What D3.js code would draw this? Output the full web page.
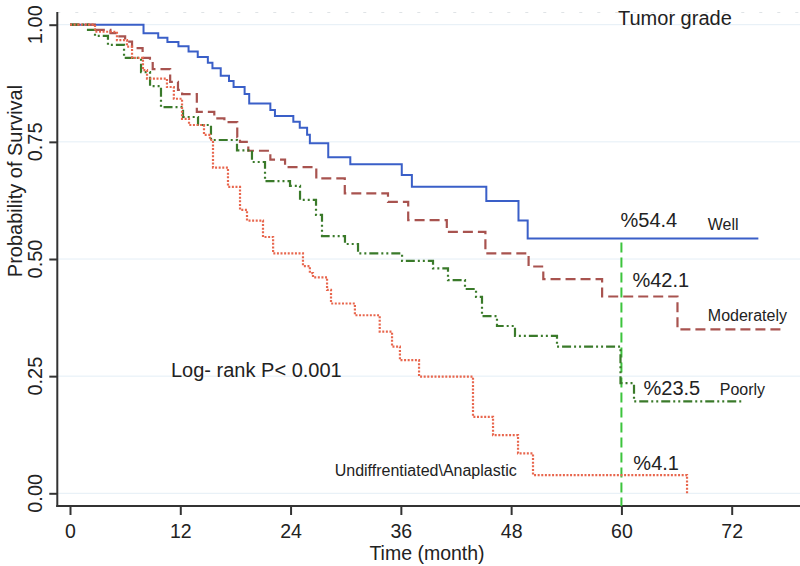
<!DOCTYPE html>
<html>
<head>
<meta charset="utf-8">
<script src="https://cdn.jsdelivr.net/npm/d3@7"></script>
<style>
  html, body { margin: 0; padding: 0; background: #fff; }
  svg { display: block; font-family: "Liberation Sans", Arial, sans-serif; }
</style>
</head>
<body>
<svg id="chart" width="800" height="566"></svg>
<script>
// ---------------- data ----------------
const xTicks = [0, 12, 24, 36, 48, 60, 72];
const yTicks = [0, 0.25, 0.5, 0.75, 1];
const yTickLabels = ["0.00", "0.25", "0.50", "0.75", "1.00"];

const wellTime = [0, 8.0, 9.6, 10.6, 11.8, 12.9, 13.9, 15.0, 15.5, 16.4, 17.3, 17.8, 19.0, 19.5, 21.8, 22.3, 24.3, 25.0, 25.8, 26.1, 28.1, 30.5, 36.1, 37.2, 45.3, 48.8, 49.8, 74.9];
const wellSurv = [1, 0.982, 0.972, 0.963, 0.954, 0.943, 0.931, 0.919, 0.907, 0.891, 0.880, 0.867, 0.852, 0.832, 0.818, 0.805, 0.793, 0.780, 0.765, 0.747, 0.717, 0.702, 0.679, 0.654, 0.624, 0.582, 0.544, 0.544];

const modTime = [0, 2.7, 4.4, 5.1, 6.0, 6.75, 7.9, 8.7, 9.0, 10.9, 11.75, 12.2, 13.8, 15.7, 16.8, 18.2, 18.5, 19.4, 21.8, 23.4, 26.8, 29.9, 34.6, 36.8, 41.0, 45.2, 49.9, 51.5, 57.9, 66.1, 77.4];
const modSurv = [1, 0.989, 0.982, 0.975, 0.964, 0.950, 0.929, 0.918, 0.905, 0.878, 0.861, 0.852, 0.814, 0.800, 0.792, 0.760, 0.750, 0.731, 0.712, 0.696, 0.672, 0.640, 0.622, 0.583, 0.558, 0.512, 0.484, 0.457, 0.420, 0.350, 0.350];

const poorTime = [0, 1.96, 2.72, 4.13, 5.88, 7.73, 8.71, 9.90, 12.30, 13.93, 15.34, 18.17, 19.80, 21.22, 23.94, 25.03, 26.77, 27.42, 29.92, 31.34, 36.13, 39.50, 41.13, 42.98, 44.18, 44.83, 46.46, 48.42, 52.99, 59.90, 61.37, 73.26];
const poorSurv = [1, 0.989, 0.976, 0.957, 0.929, 0.899, 0.869, 0.824, 0.803, 0.786, 0.754, 0.732, 0.707, 0.666, 0.656, 0.626, 0.594, 0.549, 0.532, 0.512, 0.496, 0.480, 0.455, 0.436, 0.419, 0.378, 0.357, 0.336, 0.313, 0.235, 0.196, 0.196];

const undTime = [0, 2.72, 5.11, 6.2, 6.75, 7.94, 8.38, 10.55, 11.3, 12.19, 12.95, 14.58, 15.23, 15.56, 17.19, 18.5, 19.26, 21.0, 22.1, 25.35, 26.1, 26.44, 27.97, 28.4, 31.0, 33.7, 35.04, 35.9, 37.98, 43.85, 46.03, 48.75, 50.38, 67.14];
const undSurv = [1, 0.985, 0.967, 0.953, 0.929, 0.903, 0.885, 0.867, 0.842, 0.799, 0.786, 0.765, 0.754, 0.695, 0.654, 0.605, 0.582, 0.547, 0.512, 0.485, 0.470, 0.461, 0.434, 0.405, 0.380, 0.345, 0.313, 0.284, 0.249, 0.163, 0.124, 0.085, 0.039, 0];

const refTime = 60;
const refTop = 0.535;

// annotations: [text, time, survival]
const pctLabels = [["%54.4", 59.9, 0.569], ["%42.1", 61.2, 0.44], ["%23.5", 62.4, 0.21], ["%4.1", 61.3, 0.049]];
const groupLabels = [["Well", 69.4, 0.562], ["Moderately", 69.4, 0.368], ["Poorly", 70.7, 0.21], ["Undiffrentiated\\Anaplastic", 28.8, 0.036]];

// ---------------- drawing ----------------
const svg = d3.select("#chart");
const x = d3.scaleLinear().domain([0, 72]).range([70, 731.7]);
const y = d3.scaleLinear().domain([0, 1]).range([493.3, 24.7]);

const axisX = 57.3;          // y-axis line position
const plotBottom = 506;      // x-axis line position
const plotTop = 12;
const plotRight = 800;

// faint top border
svg.append("line").attr("x1", axisX).attr("x2", plotRight).attr("y1", plotTop + 0.5).attr("y2", plotTop + 0.5)
  .attr("stroke", "#dfe3e6").attr("stroke-width", 1).attr("stroke-dasharray", "3,15");

// gridlines
svg.append("g").selectAll("line").data(yTicks).join("line")
  .attr("x1", axisX).attr("x2", plotRight)
  .attr("y1", d => y(d)).attr("y2", d => y(d))
  .attr("stroke", "#e4eef6").attr("stroke-width", 1);

// axes
const xAxis = d3.axisBottom(x).tickValues(xTicks).tickSize(9).tickPadding(9).tickSizeOuter(0);
const gx = svg.append("g").attr("transform", `translate(0,${plotBottom})`).call(xAxis);
gx.select(".domain").remove();
gx.selectAll(".tick line").attr("stroke", "#333").attr("stroke-width", 2);
gx.selectAll(".tick text").attr("font-size", 19.5).attr("fill", "#222")
  .attr("font-family", "Liberation Sans, Arial, sans-serif");

const yAxis = d3.axisLeft(y).tickValues(yTicks).tickSize(8).tickFormat("").tickSizeOuter(0);
const gy = svg.append("g").attr("transform", `translate(${axisX},0)`).call(yAxis);
gy.select(".domain").remove();
gy.selectAll(".tick line").attr("stroke", "#333").attr("stroke-width", 2);

svg.append("g").selectAll("text").data(yTicks).join("text")
  .attr("transform", (d) => `translate(41.5,${y(d)}) rotate(-90)`)
  .attr("text-anchor", "middle").attr("font-size", 20).attr("fill", "#222")
  .text((d, i) => yTickLabels[i]);

// axis lines
svg.append("line").attr("x1", axisX).attr("x2", axisX).attr("y1", plotTop).attr("y2", plotBottom + 1)
  .attr("stroke", "#333").attr("stroke-width", 2);
svg.append("line").attr("x1", axisX - 1).attr("x2", plotRight).attr("y1", plotBottom).attr("y2", plotBottom)
  .attr("stroke", "#333").attr("stroke-width", 2);

// axis titles
svg.append("text").attr("transform", "translate(22,181) rotate(-90)")
  .attr("text-anchor", "middle").attr("font-size", 20).attr("fill", "#222")
  .text("Probability of Survival");
svg.append("text").attr("x", 427).attr("y", 559.5).attr("text-anchor", "middle")
  .attr("font-size", 19.5).attr("fill", "#222").text("Time (month)");

// reference line at 60 months
svg.append("line").attr("x1", x(refTime)).attr("x2", x(refTime))
  .attr("y1", y(refTop)).attr("y2", plotBottom)
  .attr("stroke", "#3cc43c").attr("stroke-width", 2).attr("stroke-dasharray", "10,5");

// survival curves
const line = d3.line().x(d => x(d[0])).y(d => y(d[1])).curve(d3.curveStepAfter);
const series = [
  { t: wellTime, s: wellSurv, color: "#3a5fc8", dash: null, w: 2 },
  { t: modTime, s: modSurv, color: "#a8534f", dash: "10,5", w: 2.2 },
  { t: poorTime, s: poorSurv, color: "#3a7a2a", dash: "9,3,2,3,2,3", w: 2.2 },
  { t: undTime, s: undSurv, color: "#e8664d", dash: "2,1.6", w: 2.2 }
];
series.forEach(sr => {
  const pts = sr.t.map((t, i) => [t, sr.s[i]]);
  const p = svg.append("path").datum(pts).attr("d", line)
    .attr("fill", "none").attr("stroke", sr.color).attr("stroke-width", sr.w);
  if (sr.dash) p.attr("stroke-dasharray", sr.dash);
});

// annotations
svg.append("g").selectAll("text").data(pctLabels).join("text")
  .attr("x", d => x(d[1])).attr("y", d => y(d[2]))
  .attr("font-size", 20).attr("fill", "#222").text(d => d[0]);
svg.append("g").selectAll("text").data(groupLabels).join("text")
  .attr("x", d => x(d[1])).attr("y", d => y(d[2]))
  .attr("font-size", 16).attr("fill", "#222").text(d => d[0]);

svg.append("text").attr("x", 618).attr("y", 25).attr("font-size", 20).attr("fill", "#222").text("Tumor grade");
svg.append("text").attr("x", 171).attr("y", 377).attr("font-size", 20).attr("fill", "#222").text("Log- rank P< 0.001");
</script>
</body>
</html>
